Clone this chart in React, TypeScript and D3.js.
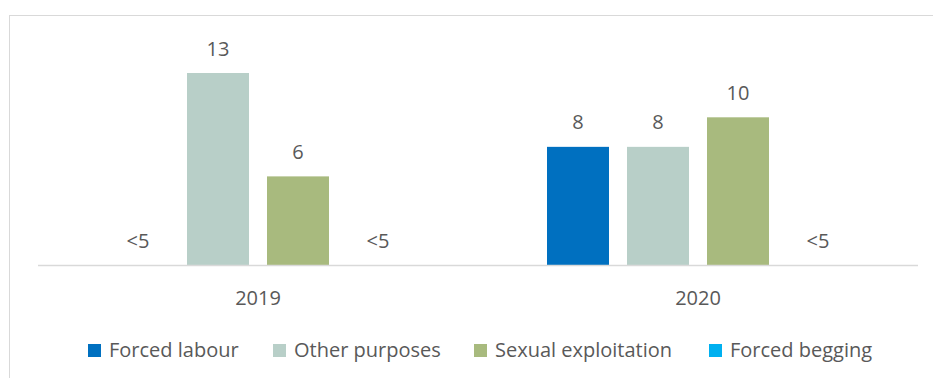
import React from "react";
import * as d3 from "d3";

const years = ["2019", "2020"];
const seriesNames = ["Forced labour", "Other purposes", "Sexual exploitation", "Forced begging"];
const seriesColors = ["#0070C0", "#B8CFC8", "#A8BA7E", "#00B0F0"];
// null = suppressed value, shown as "<5"
const forcedLabour: (number | null)[] = [null, 8];
const otherPurposes: (number | null)[] = [13, 8];
const sexualExploitation: (number | null)[] = [6, 10];
const forcedBegging: (number | null)[] = [null, null];
const suppressedLabel = "<5";

const seriesValues = [forcedLabour, otherPurposes, sexualExploitation, forcedBegging];

const W = 933;
const H = 378;
const FONT = "'Open Sans', 'Noto Sans', sans-serif";
const TEXT = "#595959";
const FS = 20;

export default function App() {
  const x0 = d3.scaleBand<string>().domain(years).range([38, 918]).padding(0);
  const x1 = d3
    .scaleBand<string>()
    .domain(seriesNames)
    .range([60, 380])
    .paddingInner(0.225)
    .paddingOuter(0.1125);
  const y = d3.scaleLinear().domain([0, 13]).range([265, 73]);

  const legendX = [88, 273, 474, 709];

  return (
    <svg
      width={W}
      height={H}
      style={{ position: "absolute", left: 0, top: 0 }}
      fontFamily={FONT}
    >
      <rect x={0} y={0} width={W} height={H} fill="#fff" />
      <rect x={9.5} y={15.5} width={W + 10} height={H} fill="none" stroke="#d9d9d9" strokeWidth={1} />
      {years.map((yr, yi) => (
        <g key={yr} transform={`translate(${x0(yr)},0)`}>
          {seriesNames.map((s, si) => {
            const v = seriesValues[si][yi];
            const bx = x1(s)!;
            const bw = x1.bandwidth();
            const val = v ?? 0;
            return (
              <g key={s}>
                {v !== null && (
                  <rect x={bx} y={y(val)} width={bw} height={y(0) - y(val)} fill={seriesColors[si]} />
                )}
                <text
                  x={bx + bw / 2}
                  y={y(val) - 17.5}
                  textAnchor="middle"
                  fontSize={FS}
                  fill={TEXT}
                >
                  {v === null ? suppressedLabel : String(v)}
                </text>
              </g>
            );
          })}
          <text
            x={x0.bandwidth() / 2}
            y={305}
            textAnchor="middle"
            fontSize={FS}
            fill={TEXT}
          >
            {yr}
          </text>
        </g>
      ))}
      <line x1={38} x2={918} y1={265.5} y2={265.5} stroke="#d9d9d9" strokeWidth={1.5} />
      {seriesNames.map((s, i) => (
        <g key={s} transform={`translate(${legendX[i]},0)`}>
          <rect x={0} y={344} width={13} height={13} fill={seriesColors[i]} />
          <text x={21} y={357} fontSize={FS} fill={TEXT}>
            {s}
          </text>
        </g>
      ))}
    </svg>
  );
}
